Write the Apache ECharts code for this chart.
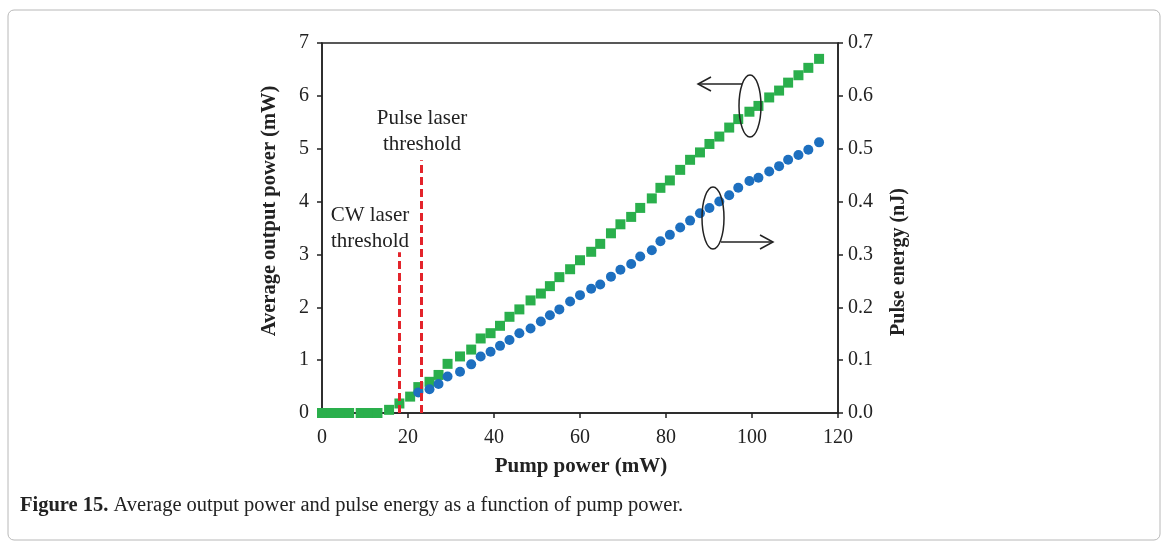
<!DOCTYPE html>
<html>
<head>
<meta charset="utf-8">
<script src="https://cdn.jsdelivr.net/npm/echarts@6/dist/echarts.min.js"></script>
<style>
  html, body { margin: 0; padding: 0; background: #fff; }
  #chart { width: 1168px; height: 550px; }
</style>
</head>
<body>
<div id="chart"></div>
<script>
// pump power (mW) below and around threshold, green series only
const pumpLow = [0, 2.1, 4.2, 6.3, 9.0, 10.9, 12.9, 15.6, 18.0, 20.5];
const powerLow = [0, 0, 0, 0, 0, 0, 0, 0.06, 0.18, 0.31];

// pump power (mW) above pulse threshold, both series
const pump = [22.4, 25.0, 27.1, 29.2, 32.1, 34.7, 36.9, 39.2, 41.4, 43.6, 45.9, 48.5, 50.9, 53.0,
  55.2, 57.7, 60.0, 62.6, 64.7, 67.2, 69.4, 71.9, 74.0, 76.7, 78.7, 80.9, 83.3, 85.6, 87.9,
  90.1, 92.4, 94.7, 96.8, 99.4, 101.5, 104.0, 106.3, 108.4, 110.8, 113.1, 115.6];
const avgPower = [0.49, 0.59, 0.72, 0.93, 1.07, 1.20, 1.41, 1.51, 1.65, 1.82, 1.96, 2.13, 2.26, 2.40,
  2.57, 2.72, 2.89, 3.05, 3.20, 3.40, 3.57, 3.71, 3.88, 4.06, 4.26, 4.40, 4.60, 4.79, 4.93,
  5.09, 5.23, 5.40, 5.56, 5.70, 5.81, 5.97, 6.10, 6.25, 6.39, 6.53, 6.70];
const pulseEnergy = [0.039, 0.045, 0.055, 0.069, 0.078, 0.092, 0.107, 0.116, 0.127, 0.138, 0.151, 0.160, 0.173, 0.185,
  0.196, 0.211, 0.223, 0.235, 0.243, 0.258, 0.271, 0.282, 0.296, 0.308, 0.325, 0.337, 0.351, 0.364, 0.378,
  0.388, 0.400, 0.412, 0.426, 0.439, 0.445, 0.457, 0.467, 0.479, 0.488, 0.498, 0.512];

// threshold markers: [pump, top of dashed line in mW]
const cwThreshold = [18.0, 3.04];
const pulseThreshold = [23.0, 4.78];

const green = '#2aaf4c';
const blue = '#1d6fbf';
const red = '#e3242b';
const serif = '"Liberation Serif", "DejaVu Serif", serif';

const greenData = pumpLow.map((p, i) => [p, powerLow[i]])
  .concat(pump.map((p, i) => [p, avgPower[i]]));
const blueData = pump.map((p, i) => [p, pulseEnergy[i]]);

var chart = echarts.init(document.getElementById('chart'));

const tickLabel = { color: '#222', fontSize: 20, fontFamily: serif };
const axisLine = { show: true, lineStyle: { color: '#222', width: 1.5 } };
const axisTick = { show: true, inside: false, length: 5, lineStyle: { color: '#222', width: 1.5 } };

var option = {
  animation: false,
  grid: {
    left: 322, right: 330, top: 43, bottom: 137,
    show: true, borderColor: '#222', borderWidth: 1.5,
    outerBoundsMode: 'none'
  },
  xAxis: {
    type: 'value', min: 0, max: 120, interval: 20,
    axisLine: axisLine, axisTick: axisTick,
    splitLine: { show: false },
    axisLabel: Object.assign({ margin: 15 }, tickLabel)
  },
  yAxis: [
    {
      type: 'value', min: 0, max: 7, interval: 1,
      axisLine: axisLine, axisTick: axisTick,
      splitLine: { show: false },
      axisLabel: Object.assign({ margin: 13 }, tickLabel)
    },
    {
      type: 'value', min: 0, max: 0.7, interval: 0.1, position: 'right',
      axisLine: axisLine, axisTick: axisTick,
      splitLine: { show: false },
      axisLabel: Object.assign({ margin: 10, formatter: v => v.toFixed(1) }, tickLabel)
    }
  ],
  series: [
    {
      name: 'Average output power',
      type: 'scatter',
      yAxisIndex: 0,
      symbol: 'rect',
      symbolSize: 10,
      itemStyle: { color: green, opacity: 1 },
      data: greenData,
      markLine: {
        silent: true,
        symbol: ['none', 'none'],
        label: { show: false },
        lineStyle: { color: red, width: 3, type: [8, 4] },
        z: 5,
        data: [
          [{ coord: [cwThreshold[0], 0] }, { coord: [cwThreshold[0], cwThreshold[1]] }],
          [{ coord: [pulseThreshold[0], 0] }, { coord: [pulseThreshold[0], pulseThreshold[1]] }]
        ]
      }
    },
    {
      name: 'Pulse energy',
      type: 'scatter',
      yAxisIndex: 1,
      symbol: 'circle',
      symbolSize: 10,
      itemStyle: { color: blue, opacity: 1 },
      data: blueData
    }
  ],
  graphic: [
    // figure frame
    { type: 'rect', shape: { x: 8, y: 10, width: 1152, height: 530, r: 6 },
      style: { fill: 'none', stroke: '#b8b8b8', lineWidth: 1 }, z: -1 },
    // axis titles
    { type: 'text', x: 581, y: 467,
      style: { text: 'Pump power (mW)', font: 'bold 21px ' + serif, fill: '#222', align: 'center', verticalAlign: 'middle' } },
    { type: 'text', x: 270, y: 211, rotation: Math.PI / 2,
      style: { text: 'Average output power (mW)', font: 'bold 20.5px ' + serif, fill: '#222', align: 'center', verticalAlign: 'middle' } },
    { type: 'text', x: 899, y: 262, rotation: Math.PI / 2,
      style: { text: 'Pulse energy (nJ)', font: 'bold 20px ' + serif, fill: '#222', align: 'center', verticalAlign: 'middle' } },
    // threshold annotations
    { type: 'text', x: 422, y: 131,
      style: { text: 'Pulse laser\nthreshold', font: '21px ' + serif, lineHeight: 26, fill: '#222', align: 'center', verticalAlign: 'middle' } },
    { type: 'text', x: 370, y: 228,
      style: { text: 'CW laser\nthreshold', font: '21px ' + serif, lineHeight: 26, fill: '#222', align: 'center', verticalAlign: 'middle' } },
    // left-axis marker (green)
    { type: 'ellipse', shape: { cx: 750, cy: 106, rx: 11, ry: 31 },
      style: { fill: 'none', stroke: '#222', lineWidth: 1.5 }, z: 10 },
    { type: 'line', shape: { x1: 742, y1: 84, x2: 698, y2: 84 },
      style: { stroke: '#222', lineWidth: 1.5 }, z: 10 },
    { type: 'polyline', shape: { points: [[711, 77], [698, 84], [711, 91]] },
      style: { fill: 'none', stroke: '#222', lineWidth: 1.5 }, z: 10 },
    // right-axis marker (blue)
    { type: 'ellipse', shape: { cx: 713, cy: 218, rx: 11, ry: 31 },
      style: { fill: 'none', stroke: '#222', lineWidth: 1.5 }, z: 10 },
    { type: 'line', shape: { x1: 721, y1: 242, x2: 773, y2: 242 },
      style: { stroke: '#222', lineWidth: 1.5 }, z: 10 },
    { type: 'polyline', shape: { points: [[760, 235], [773, 242], [760, 249]] },
      style: { fill: 'none', stroke: '#222', lineWidth: 1.5 }, z: 10 },
    // caption
    { type: 'text', x: 20, y: 506,
      style: {
        text: '{b|Figure 15.} Average output power and pulse energy as a function of pump power.',
        font: '20.5px ' + serif, fill: '#222', verticalAlign: 'middle',
        rich: { b: { fontWeight: 'bold', fontSize: 20.5, fontFamily: serif, fill: '#222' } }
      } }
  ]
};

option && chart.setOption(option);
</script>
</body>
</html>
